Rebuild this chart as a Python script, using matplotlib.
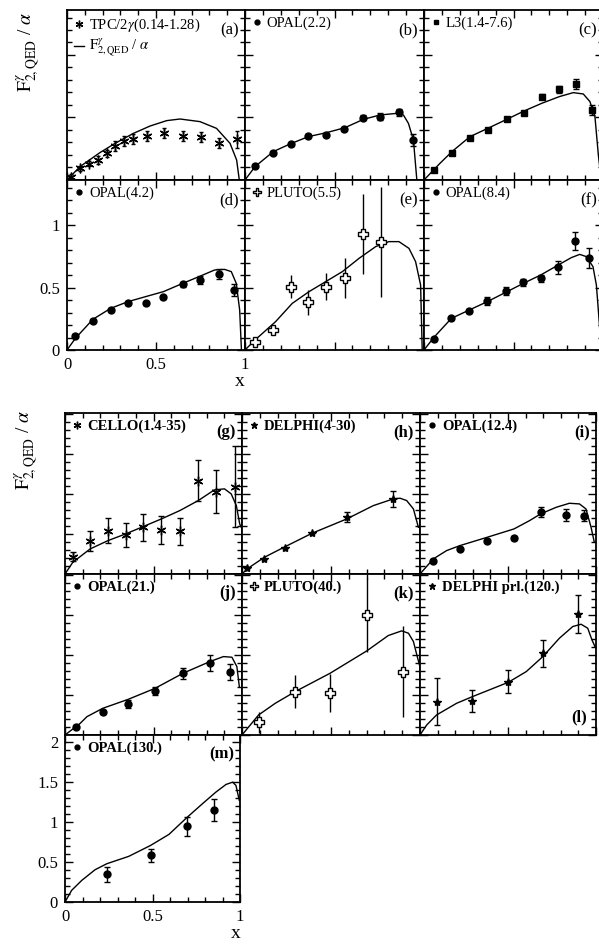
import numpy as np
import matplotlib
matplotlib.use('Agg')
import matplotlib.pyplot as plt
from matplotlib.lines import Line2D
from matplotlib.ticker import MultipleLocator

plt.rcParams['font.family'] = ['Liberation Serif', 'DejaVu Serif']
plt.rcParams['mathtext.fontset'] = 'stix'

# ---- data (x, F2/alpha, error) ----
# (a) TPC/2gamma
a_x = [0.022, 0.073, 0.125, 0.176, 0.223, 0.27, 0.32, 0.369, 0.448, 0.545, 0.65, 0.751, 0.854, 0.953]
a_y = [0.026, 0.093, 0.128, 0.16, 0.213, 0.275, 0.315, 0.325, 0.352, 0.373, 0.355, 0.347, 0.293, 0.325]
a_e = [0.02, 0.02, 0.02, 0.03, 0.03, 0.04, 0.04, 0.04, 0.04, 0.04, 0.04, 0.04, 0.04, 0.07]
a_cx = [0.0, 0.073, 0.186, 0.27, 0.373, 0.467, 0.56, 0.635, 0.747, 0.84, 0.916, 0.953, 0.968]
a_cy = [0.0, 0.107, 0.22, 0.293, 0.373, 0.432, 0.475, 0.488, 0.467, 0.413, 0.293, 0.16, 0.0]

# (b) OPAL 2.2
b_x = [0.056, 0.155, 0.255, 0.354, 0.453, 0.555, 0.657, 0.754, 0.859, 0.937]
b_y = [0.115, 0.219, 0.285, 0.352, 0.363, 0.408, 0.499, 0.507, 0.541, 0.32]
b_e = [0.01, 0.01, 0.01, 0.015, 0.015, 0.015, 0.02, 0.03, 0.03, 0.05]
b_cx = [0.0, 0.056, 0.158, 0.251, 0.354, 0.456, 0.559, 0.661, 0.754, 0.847, 0.885, 0.913, 0.941, 0.96]
b_cy = [0.0, 0.107, 0.227, 0.288, 0.347, 0.379, 0.419, 0.485, 0.52, 0.533, 0.52, 0.453, 0.32, 0.0]

# (c) L3 1.4-7.6
c_x = [0.056, 0.156, 0.257, 0.356, 0.462, 0.559, 0.657, 0.756, 0.847, 0.94]
c_y = [0.08, 0.219, 0.336, 0.4, 0.485, 0.539, 0.667, 0.725, 0.768, 0.56]
c_e = [0.01, 0.01, 0.01, 0.01, 0.015, 0.015, 0.02, 0.03, 0.04, 0.04]
c_cx = [0.0, 0.089, 0.156, 0.257, 0.356, 0.462, 0.559, 0.657, 0.756, 0.834, 0.89, 0.927, 0.955, 0.974, 0.99]
c_cy = [0.0, 0.133, 0.227, 0.347, 0.413, 0.485, 0.552, 0.613, 0.667, 0.699, 0.688, 0.627, 0.507, 0.2, 0.0]

# (d) OPAL 4.2
d_x = [0.047, 0.145, 0.245, 0.343, 0.442, 0.542, 0.65, 0.75, 0.853, 0.938]
d_y = [0.115, 0.235, 0.32, 0.379, 0.373, 0.421, 0.525, 0.56, 0.605, 0.48]
d_e = [0.01, 0.01, 0.015, 0.015, 0.015, 0.015, 0.02, 0.03, 0.04, 0.05]
d_cx = [0.0, 0.047, 0.145, 0.245, 0.343, 0.442, 0.542, 0.65, 0.75, 0.829, 0.885, 0.923, 0.951, 0.97, 0.98]
d_cy = [0.0, 0.093, 0.245, 0.333, 0.387, 0.427, 0.467, 0.533, 0.592, 0.64, 0.645, 0.627, 0.533, 0.32, 0.0]

# (e) PLUTO 5.5
e_x = [0.056, 0.156, 0.259, 0.354, 0.454, 0.559, 0.661, 0.758]
e_y = [0.067, 0.16, 0.507, 0.381, 0.507, 0.573, 0.928, 0.867]
e_e = [0.02, 0.03, 0.09, 0.1, 0.11, 0.16, 0.32, 0.44]
e_cx = [0.0, 0.056, 0.171, 0.264, 0.358, 0.451, 0.544, 0.637, 0.73, 0.804, 0.86, 0.916, 0.953, 0.981, 0.99]
e_cy = [0.0, 0.08, 0.227, 0.373, 0.467, 0.547, 0.627, 0.733, 0.827, 0.867, 0.867, 0.813, 0.707, 0.52, 0.0]

# (f) OPAL 8.4
f_x = [0.054, 0.153, 0.253, 0.354, 0.456, 0.555, 0.652, 0.75, 0.842, 0.922]
f_y = [0.085, 0.253, 0.315, 0.392, 0.472, 0.541, 0.573, 0.661, 0.872, 0.739]
f_e = [0.01, 0.01, 0.015, 0.03, 0.03, 0.03, 0.03, 0.05, 0.07, 0.08]
f_cx = [0.0, 0.054, 0.153, 0.253, 0.354, 0.456, 0.555, 0.652, 0.75, 0.823, 0.87, 0.907, 0.944, 0.963, 0.976, 0.99]
f_cy = [0.0, 0.099, 0.253, 0.32, 0.387, 0.461, 0.533, 0.6, 0.68, 0.739, 0.765, 0.747, 0.667, 0.52, 0.28, 0.0]

# (g) CELLO 1.4-35
g_x = [0.044, 0.142, 0.243, 0.342, 0.442, 0.545, 0.649, 0.753, 0.854, 0.958]
g_y = [0.217, 0.408, 0.542, 0.492, 0.583, 0.55, 0.533, 1.167, 1.029, 1.092]
g_e = [0.06, 0.125, 0.16, 0.15, 0.17, 0.17, 0.17, 0.26, 0.265, 0.51]
g_cx = [0.0, 0.044, 0.142, 0.243, 0.342, 0.442, 0.545, 0.649, 0.753, 0.844, 0.901, 0.939, 0.968, 0.987, 0.996]
g_cy = [0.0, 0.146, 0.313, 0.417, 0.5, 0.592, 0.688, 0.792, 0.917, 1.05, 1.063, 1.0, 0.854, 0.625, 0.583]

# (h) DELPHI 4-30
h_x = [0.028, 0.125, 0.243, 0.393, 0.589, 0.85]
h_y = [0.075, 0.188, 0.325, 0.508, 0.708, 0.9375]
h_e = [0.0, 0.0, 0.0, 0.0, 0.06, 0.1]
h_cx = [0.0, 0.028, 0.125, 0.243, 0.393, 0.589, 0.738, 0.85, 0.888, 0.925, 0.963, 0.991]
h_cy = [0.0, 0.0625, 0.208, 0.342, 0.508, 0.688, 0.854, 0.9375, 0.946, 0.917, 0.8125, 0.583]

# (i) OPAL 12.4
i_x = [0.075, 0.226, 0.381, 0.534, 0.685, 0.83, 0.934]
i_y = [0.167, 0.3125, 0.417, 0.45, 0.771, 0.7375, 0.729]
i_e = [0.015, 0.015, 0.02, 0.03, 0.065, 0.07, 0.07]
i_cx = [0.0, 0.075, 0.151, 0.226, 0.381, 0.534, 0.623, 0.685, 0.774, 0.849, 0.906, 0.943, 0.972, 0.99]
i_cy = [0.0, 0.1875, 0.292, 0.354, 0.458, 0.5625, 0.667, 0.75, 0.833, 0.883, 0.875, 0.8125, 0.583, 0.4]

# (j) OPAL 21.
j_x = [0.063, 0.213, 0.358, 0.509, 0.667, 0.819, 0.933]
j_y = [0.104, 0.283, 0.3875, 0.55, 0.771, 0.896, 0.792]
j_e = [0.015, 0.02, 0.05, 0.05, 0.07, 0.1, 0.1]
j_cx = [0.0, 0.086, 0.124, 0.213, 0.358, 0.509, 0.667, 0.819, 0.895, 0.943, 0.971, 0.985]
j_cy = [0.0, 0.146, 0.229, 0.333, 0.446, 0.583, 0.771, 0.917, 0.979, 0.971, 0.854, 0.604]

# (k) PLUTO 40.
k_x = [0.093, 0.299, 0.495, 0.701, 0.907]
k_y = [0.158, 0.542, 0.521, 1.5, 0.792]
k_e = [0.135, 0.21, 0.24, 0.46, 0.57]
k_cx = [0.0, 0.093, 0.187, 0.299, 0.495, 0.701, 0.822, 0.897, 0.935, 0.963, 0.987, 1.0]
k_cy = [0.0, 0.25, 0.396, 0.542, 0.771, 1.05, 1.242, 1.3, 1.271, 1.167, 0.958, 0.85]

# (l) DELPHI prl. 120.
l_x = [0.094, 0.298, 0.502, 0.698, 0.896]
l_y = [0.417, 0.425, 0.667, 1.021, 1.508]
l_e = [0.29, 0.135, 0.14, 0.167, 0.24]
l_cx = [0.0, 0.038, 0.094, 0.208, 0.298, 0.502, 0.604, 0.698, 0.792, 0.868, 0.915, 0.953, 0.977, 0.995]
l_cy = [0.0, 0.125, 0.25, 0.396, 0.479, 0.658, 0.792, 0.979, 1.208, 1.354, 1.383, 1.333, 1.1875, 1.1]

# (m) OPAL 130.
m_x = [0.239, 0.489, 0.695, 0.851]
m_y = [0.346, 0.583, 0.946, 1.154]
m_e = [0.095, 0.085, 0.115, 0.14]
m_cx = [0.0, 0.038, 0.096, 0.172, 0.239, 0.364, 0.489, 0.594, 0.695, 0.785, 0.862, 0.92, 0.958, 0.977, 0.996]
m_cy = [0.0, 0.146, 0.271, 0.404, 0.479, 0.571, 0.708, 0.846, 1.054, 1.229, 1.375, 1.471, 1.5, 1.458, 1.271]

W, H = 599, 944
fig = plt.figure(figsize=(W / 100, H / 100), dpi=100, facecolor='white')

def px_axes(x0, y0, w, h):
    # pixel box (left, top, width, height) -> figure axes
    return fig.add_axes([x0 / W, 1 - (y0 + h) / H, w / W, h / H])

def style(ax, ytop, ymaj):
    ax.set_xlim(0, 1)
    ax.set_ylim(0, ytop)
    ax.xaxis.set_major_locator(MultipleLocator(0.5))
    ax.xaxis.set_minor_locator(MultipleLocator(0.1))
    ax.yaxis.set_major_locator(MultipleLocator(ymaj))
    ax.yaxis.set_minor_locator(MultipleLocator(0.1))
    ax.tick_params(which='both', direction='in', top=True, right=True,
                   labelbottom=False, labelleft=False, width=1.0)
    ax.tick_params(which='major', length=6)
    ax.tick_params(which='minor', length=3.5)
    for s in ax.spines.values():
        s.set_linewidth(1.3)

panels = [
    # key, box, x, y, err, cx, cy, marker, label, bold, ytop, capsize
    ('a', (67, 10, 178, 170), a_x, a_y, a_e, a_cx, a_cy, 'ast', r'TPC/2$\gamma$(0.14-1.28)', False, 1.36, 1.5),
    ('b', (245, 10, 179, 170), b_x, b_y, b_e, b_cx, b_cy, 'o', 'OPAL(2.2)', False, 1.36, 2),
    ('c', (424, 10, 179, 170), c_x, c_y, c_e, c_cx, c_cy, 's', 'L3(1.4-7.6)', False, 1.36, 2),
    ('d', (67, 180, 178, 170), d_x, d_y, d_e, d_cx, d_cy, 'o', 'OPAL(4.2)', False, 1.36, 2),
    ('e', (245, 180, 179, 170), e_x, e_y, e_e, e_cx, e_cy, 'P', 'PLUTO(5.5)', False, 1.36, 0),
    ('f', (424, 180, 179, 170), f_x, f_y, f_e, f_cx, f_cy, 'o', 'OPAL(8.4)', False, 1.36, 2),
    ('g', (65, 413, 177, 161), g_x, g_y, g_e, g_cx, g_cy, 'ast', 'CELLO(1.4-35)', True, 2.01, 2.5),
    ('h', (242, 413, 178, 161), h_x, h_y, h_e, h_cx, h_cy, '*', 'DELPHI(4-30)', True, 2.01, 2.5),
    ('i', (420, 413, 176, 161), i_x, i_y, i_e, i_cx, i_cy, 'o', 'OPAL(12.4)', True, 2.01, 2.5),
    ('j', (65, 574, 177, 161), j_x, j_y, j_e, j_cx, j_cy, 'o', 'OPAL(21.)', True, 2.01, 2.5),
    ('k', (242, 574, 178, 161), k_x, k_y, k_e, k_cx, k_cy, 'P', 'PLUTO(40.)', True, 2.01, 0),
    ('l', (420, 574, 176, 161), l_x, l_y, l_e, l_cx, l_cy, '*', 'DELPHI prl.(120.)', True, 2.01, 2.5),
    ('m', (65, 735, 175, 167), m_x, m_y, m_e, m_cx, m_cy, 'o', 'OPAL(130.)', True, 2.09, 2.5),
]

ast = (6, 2, 0)
axes = {}
for key, box, x, y, e, cx, cy, mk, lab, bold, ytop, cap in panels:
    ax = px_axes(*box)
    style(ax, ytop, 0.5)
    axes[key] = ax
    marker = ast if mk == 'ast' else mk
    msize = {'o': 5, 's': 5, 'P': 7, '*': 6}.get(mk, 7)
    face = 'white' if mk == 'P' else 'black'
    ax.plot(cx, cy, color='black', lw=1.0)
    ax.errorbar(x, y, yerr=e, fmt='none', ecolor='black', elinewidth=1.0, capsize=cap, capthick=1.0)
    ax.plot(x, y, ls='none', marker=marker, ms=msize, mfc=face, mec='black', mew=1.0)
    fw = 'bold' if bold else 'normal'
    h = Line2D([], [], ls='none', marker=marker, ms=msize - 1.5, mfc=face, mec='black', mew=1.0)
    handles, labels = [h], [lab]
    if key == 'a':
        handles.append(Line2D([], [], color='black', lw=1.0))
        labels.append(r'$\mathrm{F}^{\gamma}_{2,\mathrm{QED}}$ / $\alpha$')
    ax.legend(handles, labels, loc='upper left', frameon=False, handlelength=0.7,
              handletextpad=0.35, borderaxespad=0.15, borderpad=0.3, labelspacing=0.2,
              prop={'size': 10.5, 'weight': fw})
    if key == 'l':
        ax.text(0.95, 0.06, '(l)', transform=ax.transAxes, ha='right', va='bottom',
                fontsize=12, fontweight=fw)
    else:
        ax.text(0.965, 0.93, '(%s)' % key, transform=ax.transAxes, ha='right', va='top',
                fontsize=12, fontweight=fw)

# tick labels on (d) and (m)
for key in ['d', 'm']:
    ax = axes[key]
    ax.tick_params(labelbottom=True, labelleft=True, labelsize=12, pad=5)
    ax.set_xticks([0, 0.5, 1])
    ax.set_xticklabels(['0', '0.5', '1'])
axes['d'].set_yticks([0, 0.5, 1])
axes['d'].set_yticklabels(['0', '0.5', '1'])
axes['m'].set_yticks([0, 0.5, 1, 1.5, 2])
axes['m'].set_yticklabels(['0', '0.5', '1', '1.5', '2'])

ylab = r'$\mathrm{F}^{\gamma}_{2,\mathrm{QED}}$ / $\alpha$'
fig.text(28 / W, 1 - 52 / H, ylab, rotation=90, ha='center', va='center', fontsize=14)
fig.text(26 / W, 1 - 450 / H, ylab, rotation=90, ha='center', va='center', fontsize=14)
fig.text(240 / W, 1 - 381 / H, 'x', ha='center', va='center', fontsize=14)
fig.text(236 / W, 1 - 934 / H, 'x', ha='center', va='center', fontsize=14)

fig.savefig('out.png', dpi=100, facecolor='white')
